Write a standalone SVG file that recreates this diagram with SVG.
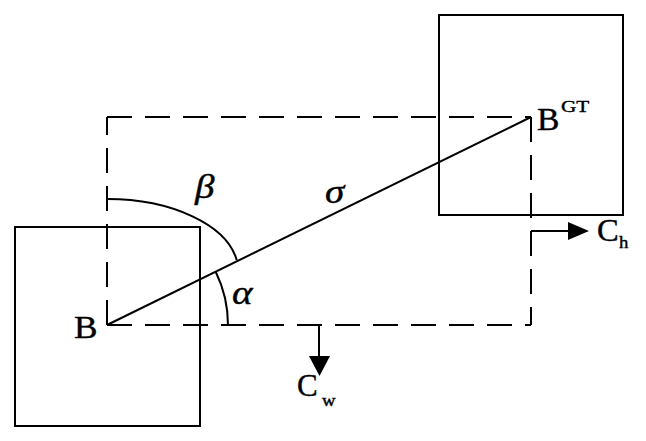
<svg xmlns="http://www.w3.org/2000/svg" width="646" height="441" viewBox="0 0 646 441">
<style>
.box{fill:none;stroke:#000;stroke-width:2}
.dash{fill:none;stroke:#000;stroke-width:2;stroke-dasharray:25 13}
.ln{fill:none;stroke:#000;stroke-width:2}
.t{font-family:"Liberation Serif","Times New Roman",serif;fill:#000;stroke:#000;stroke-width:0.4}
.g{font-family:"Liberation Serif","Times New Roman",serif;font-style:italic;fill:#000;stroke:#000;stroke-width:0.4}
</style>
<rect width="646" height="441" fill="#fff"/>
<g id="box-B">
<rect class="box" x="15" y="227" width="185" height="199"/>
</g>
<g id="box-BGT">
<rect class="box" x="439" y="15" width="184" height="200"/>
</g>
<g id="connectors">
<path class="dash" d="M107,325 L107,117"/>
<path class="dash" d="M107,117 L531,117"/>
<path class="dash" d="M531,117 L531,325"/>
<path class="dash" d="M107,325 L531,325"/>
<path class="ln" d="M107,325 L531,117"/>
<path class="ln" d="M107,199 A131,72 0 0 1 236.7,260"/>
<path class="ln" d="M215.8,272 A121,121 0 0 1 228,325"/>
<path class="ln" d="M319,325 L319,356"/>
<path d="M309,356 L330,356 L319.5,376 Z" fill="#000"/>
<path class="ln" d="M531,231 L568,231"/>
<path d="M568,222 L589,231 L568,240 Z" fill="#000"/>
</g>
<g id="labels">
<text class="t" font-size="32" transform="translate(74,338) scale(1.1,1)">B</text>
<text class="t" font-size="32" transform="translate(537,130) scale(1.05,1)">B</text>
<text class="t" font-size="17" transform="translate(561,112) scale(1.25,1)">GT</text>
<text class="t" font-size="31" transform="translate(597,241) scale(1.05,1)">C</text>
<text class="t" font-size="17" transform="translate(619,248) scale(1.1,1)">h</text>
<text class="t" font-size="31" transform="translate(297,396) scale(1.0,1)">C</text>
<text class="t" font-size="17" transform="translate(322,406) scale(1.1,1)">w</text>
<text class="g" font-size="34" transform="translate(195,198) scale(1.15,1)">β</text>
<text class="g" font-size="34" transform="translate(232,304) scale(1.15,1)">α</text>
<text class="g" font-size="34" transform="translate(325,203) scale(1.15,1)">σ</text>
</g>
</svg>
